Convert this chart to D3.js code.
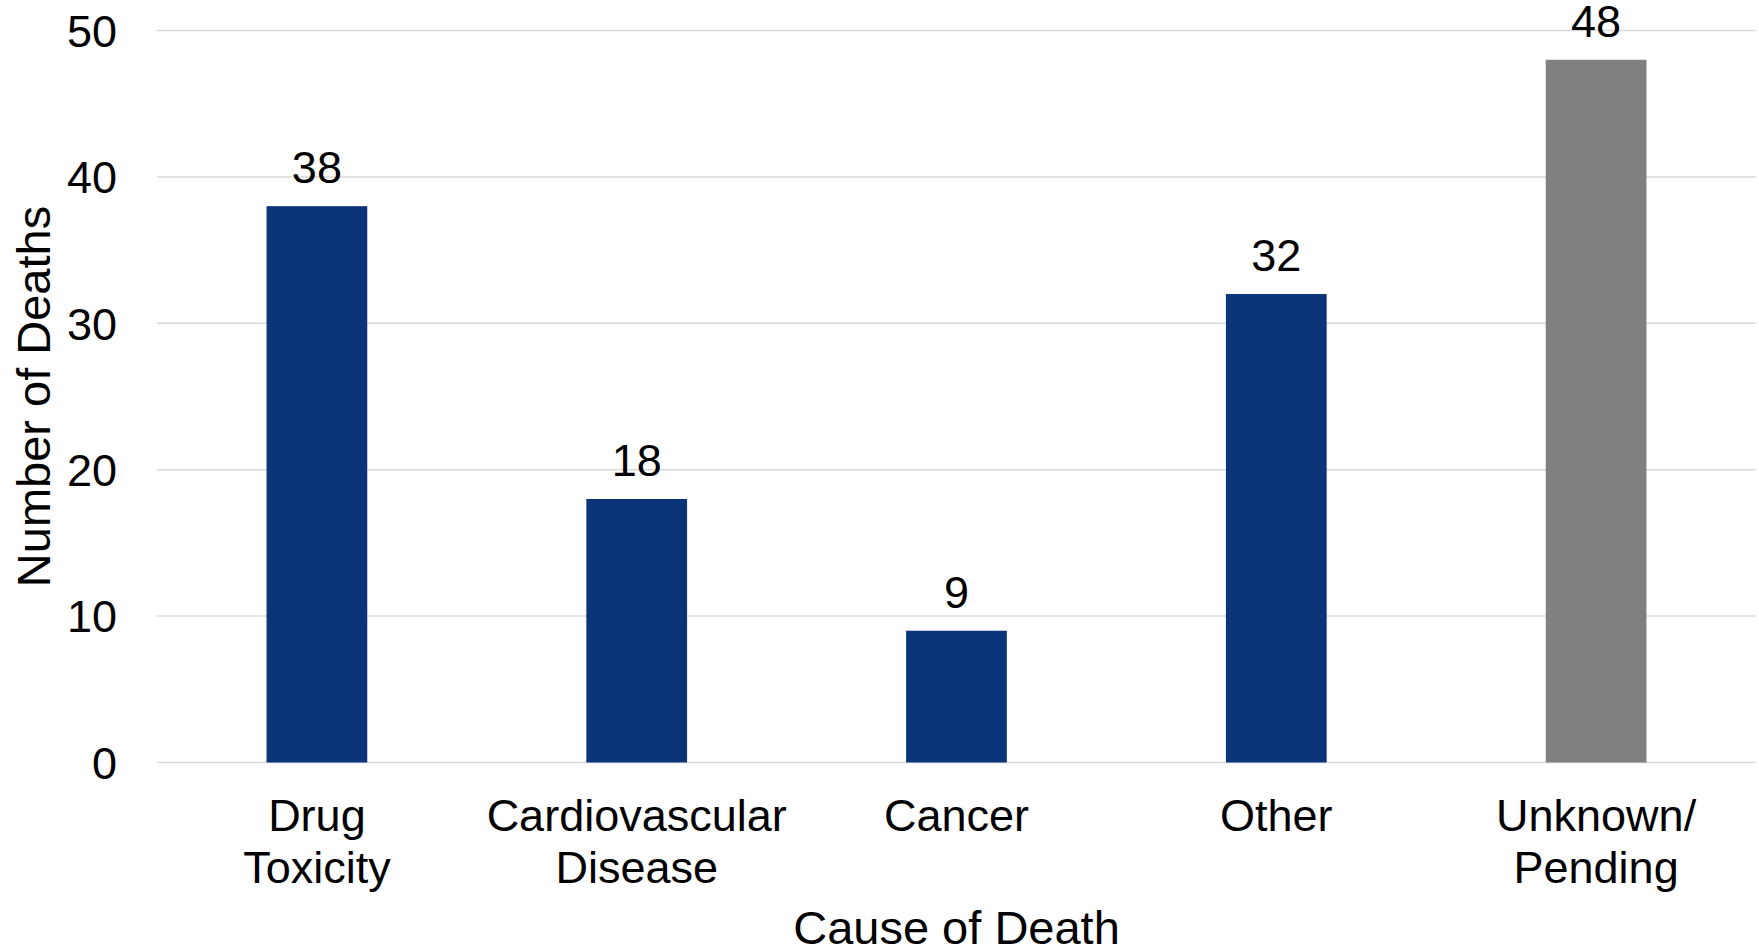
<!DOCTYPE html>
<html>
<head>
<meta charset="utf-8">
<script src="https://cdn.jsdelivr.net/npm/d3@7/dist/d3.min.js"></script>
<style>
  html, body { margin: 0; padding: 0; background: #fff; }
  svg { display: block; font-family: "Liberation Sans", Arial, sans-serif; }
</style>
</head>
<body>
<svg id="chart" width="1759" height="950"></svg>
<script>
// Deaths by cause
const categories = [["Drug", "Toxicity"], ["Cardiovascular", "Disease"], ["Cancer"], ["Other"], ["Unknown/", "Pending"]];
const deaths = [38, 18, 9, 32, 48];
const barColors = ["#0b3578", "#0b3578", "#0b3578", "#0b3578", "#808080"];
const yTicks = [0, 10, 20, 30, 40, 50];

const svg = d3.select("#chart");
const margin = { left: 157, right: 3, top: 30.5, bottom: 187.5 };
const W = 1759, H = 950;
const x0 = margin.left, x1 = W - margin.right;
const y0 = H - margin.bottom, y1 = margin.top;

const keys = categories.map(c => c.join(" "));
const gap = 0.685;
const x = d3.scaleBand().domain(keys).range([x0, x1])
  .paddingInner(gap).paddingOuter(gap / 2);
const y = d3.scaleLinear().domain([0, 50]).range([y0, y1]);

// gridlines
svg.append("g").selectAll("line").data(yTicks).join("line")
  .attr("x1", x0).attr("x2", x1)
  .attr("y1", d => y(d)).attr("y2", d => y(d))
  .attr("stroke", "#d9d9d9").attr("stroke-width", 1.5);

// y axis labels
const yAxis = d3.axisLeft(y).tickValues(yTicks).tickSize(0).tickPadding(0);
const gy = svg.append("g").attr("transform", `translate(117,0)`).call(yAxis);
gy.select(".domain").remove();
gy.selectAll("text").attr("font-size", 45).attr("fill", "#000")
  .attr("font-family", "Liberation Sans, Arial, sans-serif")
  .attr("dy", "0.35em");

// bars
svg.append("g").selectAll("rect").data(deaths).join("rect")
  .attr("x", (d, i) => x(keys[i]))
  .attr("width", x.bandwidth())
  .attr("y", d => y(d))
  .attr("height", d => y(0) - y(d))
  .attr("fill", (d, i) => barColors[i]);

// value labels
svg.append("g").selectAll("text").data(deaths).join("text")
  .attr("x", (d, i) => x(keys[i]) + x.bandwidth() / 2)
  .attr("y", d => y(d) - 23)
  .attr("text-anchor", "middle")
  .attr("font-size", 45).attr("fill", "#000")
  .text(d => d);

// category labels
const cat = svg.append("g").selectAll("text").data(categories).join("text")
  .attr("x", (d, i) => x(keys[i]) + x.bandwidth() / 2)
  .attr("y", 831)
  .attr("text-anchor", "middle")
  .attr("font-size", 45).attr("fill", "#000");
cat.selectAll("tspan").data(d => d).join("tspan")
  .attr("x", function () { return d3.select(this.parentNode).attr("x"); })
  .attr("dy", (d, i) => i === 0 ? 0 : 52)
  .text(d => d);

// axis titles
svg.append("text")
  .attr("x", (x0 + x1) / 2).attr("y", 944)
  .attr("text-anchor", "middle").attr("font-size", 47).attr("fill", "#000")
  .text("Cause of Death");

svg.append("text")
  .attr("transform", `translate(50,${(y0 + y1) / 2}) rotate(-90)`)
  .attr("text-anchor", "middle").attr("font-size", 47).attr("fill", "#000")
  .text("Number of Deaths");
</script>
</body>
</html>
